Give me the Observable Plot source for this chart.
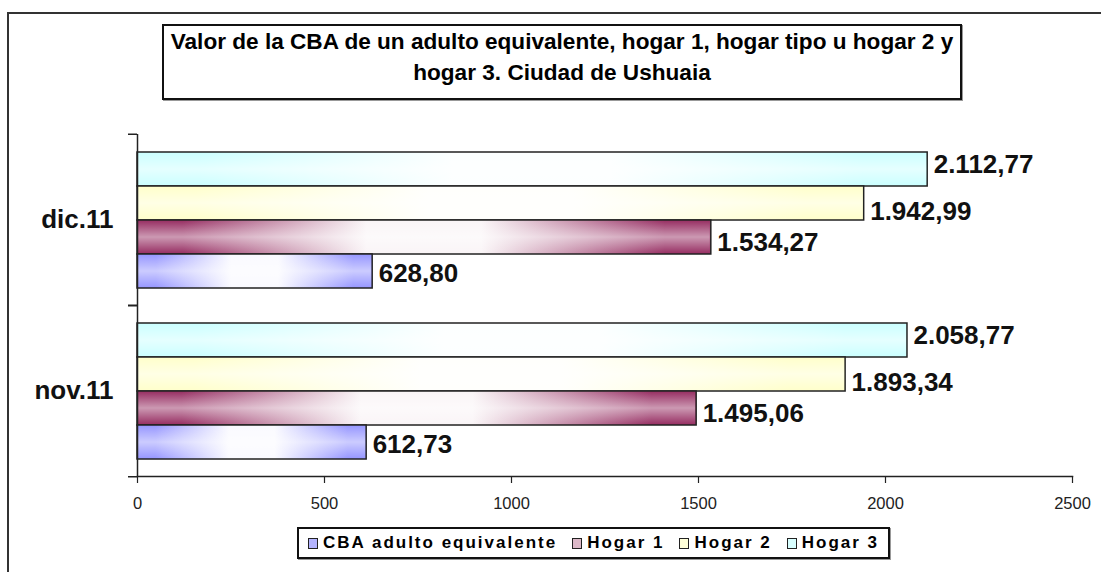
<!DOCTYPE html>
<html><head><meta charset="utf-8">
<script src="https://cdn.jsdelivr.net/npm/d3@7"></script>
<script src="https://cdn.jsdelivr.net/npm/@observablehq/plot@0.6"></script>
<style>
body{margin:0;background:#fff;width:1101px;height:572px;overflow:hidden;position:relative;font-family:Arial,"Liberation Sans",sans-serif;}
#frame{position:absolute;left:7px;top:12px;width:1200px;height:700px;border-top:2px solid #333;border-left:2px solid #333;}
#title{position:absolute;left:162px;top:24px;width:796px;height:72px;border:2px solid #111;box-shadow:1px 1px 0 #999;text-align:center;font-weight:bold;font-size:22.6px;line-height:31px;color:#000;}
#chart{position:absolute;left:0;top:110px;}
#legend{position:absolute;left:297px;top:527px;height:28px;border:2px solid #111;box-shadow:1px 1px 0 #999;display:flex;align-items:center;padding:0 9px 0 9px;font-weight:bold;font-size:17px;letter-spacing:2px;color:#000;background:#fff;}
.item{display:flex;align-items:center;margin-right:15px}
.item:last-child{margin-right:0}
.sw{width:8px;height:9px;border:1.5px solid #222;margin-right:5px}
</style></head><body>
<div id="frame"></div>
<div id="title">Valor de la CBA de un adulto equivalente, hogar 1, hogar tipo u hogar 2 y<br>hogar 3. Ciudad de Ushuaia</div>
<div id="chart"></div>
<div id="legend"></div>
<script>
const months = ["dic.11", "nov.11"];
const series = ["Hogar 3", "Hogar 2", "Hogar 1", "CBA adulto equivalente"];
const legendOrder = ["CBA adulto equivalente", "Hogar 1", "Hogar 2", "Hogar 3"];
const cba = [628.80, 612.73];
const hogar1 = [1534.27, 1495.06];
const hogar2 = [1942.99, 1893.34];
const hogar3 = [2112.77, 2058.77];
const xTicks = [0, 500, 1000, 1500, 2000, 2500];

const valuesBySeries = {
  "CBA adulto equivalente": cba,
  "Hogar 1": hogar1,
  "Hogar 2": hogar2,
  "Hogar 3": hogar3
};
const baseColor = {"CBA adulto equivalente": "#9999ff", "Hogar 1": "#993366", "Hogar 2": "#ffffcc", "Hogar 3": "#ccffff"};
const swatchColor = {"CBA adulto equivalente": "#b4b4ff", "Hogar 1": "#dcb8c8", "Hogar 2": "#ffffd8", "Hogar 3": "#d8ffff"};
const labelDy = {"Hogar 3": -5, "Hogar 2": 8, "Hogar 1": 5, "CBA adulto equivalente": 2};

const table = [];
series.forEach(s => months.forEach((m, i) => table.push({month: m, series: s, value: valuesBySeries[s][i]})));

const locale = d3.formatLocale({decimal: ",", thousands: ".", grouping: [3], currency: ["$", ""]});
const fmt = locale.format(",.2f");
const gid = s => "grad" + series.indexOf(s);

const W = 1101, H = 410, mt = 23, mb = 44, ml = 137, mr = 29;
const facetH = (H - mt - mb) / months.length;

const marks = [];
series.forEach(s => {
  const rows = table.filter(d => d.series === s);
  marks.push(Plot.barX(rows, {fy: "month", y: "series", x: "value", fill: `url(#${gid(s)})`, stroke: "#222", strokeWidth: 1.5}));
  marks.push(Plot.barX(rows, {fy: "month", y: "series", x: "value", fill: "url(#vshine)", insetTop: 1, insetBottom: 1, insetLeft: 1, insetRight: 1}));
  marks.push(Plot.text(rows, {fy: "month", y: "series", x: "value", text: d => fmt(d.value), textAnchor: "start", dx: 6, dy: labelDy[s], fontSize: 26, fontWeight: "bold", fill: "#111"}));
});

const chart = Plot.plot({
  width: W, height: H, marginTop: mt, marginBottom: mb, marginLeft: ml, marginRight: mr,
  style: {fontFamily: "Arial, 'Liberation Sans', sans-serif", background: "transparent", overflow: "visible"},
  x: {domain: [0, 2500], axis: null},
  y: {domain: series, paddingInner: 0, paddingOuter: 0.5, axis: null},
  fy: {domain: months, padding: 0, axis: null},
  marks: [
    ...marks,
    Plot.ruleX([0], {stroke: "#222", strokeWidth: 1.5}),
    Plot.frame({anchor: "bottom", facetAnchor: "bottom", stroke: "#222", strokeWidth: 1.5}),
    Plot.axisX({ticks: xTicks, tickSize: 7, tickPadding: 14, fontSize: 16.5, tickFormat: d3.format("d"), label: null, stroke: "#222", fill: "#222", strokeWidth: 1.2}),
    Plot.axisFy({anchor: "left", tickSize: 0, tickPadding: 24, fontSize: 26, fontWeight: "bold", label: null, fill: "#111"}),
    Plot.axisFy({anchor: "left", tickSize: 9, tickFormat: () => "", label: null, dy: -facetH / 2, stroke: "#222", strokeWidth: 1.5}),
    Plot.axisFy({anchor: "left", tickSize: 9, tickFormat: () => "", label: null, dy: facetH / 2, stroke: "#222", strokeWidth: 1.5})
  ]
});

// gradient definitions
const svg = d3.select(chart.tagName.toLowerCase() === "svg" ? chart : chart.querySelector("svg"));
const defs = svg.insert("defs", ":first-child");
series.forEach(s => {
  const g = defs.append("linearGradient").attr("id", gid(s)).attr("x1", 0).attr("x2", 1).attr("y1", 0).attr("y2", 0);
  [[0, 1], [0.08, 1], [0.4, 0.05], [0.6, 0.05], [0.92, 1], [1, 1]].forEach(([o, k]) => {
    g.append("stop").attr("offset", o).attr("stop-color", d3.interpolateRgb("#ffffff", baseColor[s])(k));
  });
});
const v = defs.append("linearGradient").attr("id", "vshine").attr("x1", 0).attr("x2", 0).attr("y1", 0).attr("y2", 1);
[[0, 0], [0.5, 0.5], [1, 0]].forEach(([o, a]) => v.append("stop").attr("offset", o).attr("stop-color", "#fff").attr("stop-opacity", a));

document.getElementById("chart").appendChild(chart);

// legend
const leg = document.getElementById("legend");
legendOrder.forEach(s => {
  const it = document.createElement("div");
  it.className = "item";
  const sw = document.createElement("span");
  sw.className = "sw";
  sw.style.background = swatchColor[s];
  const tx = document.createElement("span");
  tx.textContent = s;
  it.appendChild(sw); it.appendChild(tx);
  leg.appendChild(it);
});
</script>
</body></html>
